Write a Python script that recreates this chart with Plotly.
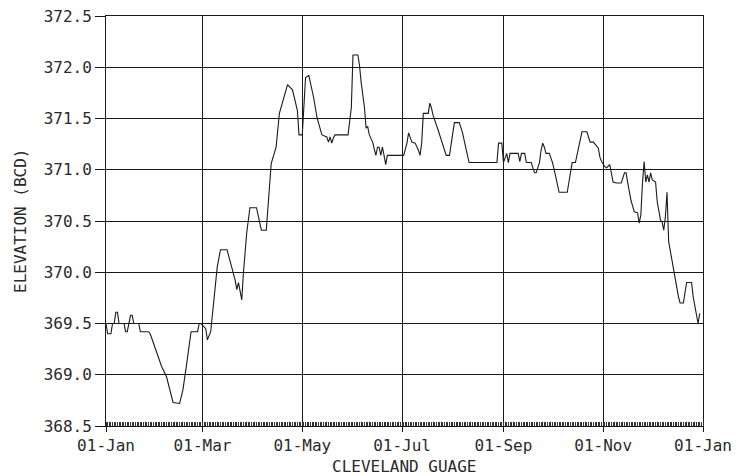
import datetime as dt
import plotly.graph_objects as go

# Day of year (0 = 01-Jan) and lake elevation readings
day = [0, 1, 3, 4, 5, 6, 7, 8, 11, 12, 13, 14, 15, 16, 17, 20, 21, 26, 27, 29, 31, 34, 37, 39, 41, 45,
       47, 49, 51, 52, 56, 57, 58, 61, 62, 64, 68, 70, 74, 77, 79, 80, 81, 83, 84, 86, 88, 92, 95, 98,
       100, 101, 104, 106, 111, 114, 117, 118, 120, 122, 124, 125, 127, 129, 131, 132, 135, 136, 137,
       138, 139, 140, 148, 150, 151, 154, 155, 156, 158, 159, 160, 161, 163, 164, 165, 166, 167, 168,
       169, 170, 171, 172, 182, 184, 185, 187, 189, 191, 192, 193, 194, 197, 198, 199, 200, 203, 206,
       208, 210, 212, 213, 216, 218, 220, 222, 239, 240, 242, 243, 245, 246, 247, 252, 253, 254, 256,
       257, 260, 262, 263, 265, 266, 267, 268, 269, 271, 273, 275, 277, 282, 284, 285, 287, 290, 291,
       294, 296, 298, 301, 302, 303, 305, 306, 308, 310, 312, 315, 317, 318, 319, 321, 323, 325, 326,
       327, 328, 329, 330, 331, 332, 333, 334, 336, 337, 339, 340, 341, 342, 343, 344, 346, 348, 350,
       351, 353, 355, 358, 359, 361, 362, 363]
elevation = [369.50, 369.40, 369.40, 369.50, 369.50, 369.61, 369.61, 369.50, 369.50, 369.42, 369.42,
             369.50, 369.58, 369.58, 369.50, 369.50, 369.42, 369.42, 369.40, 369.31, 369.22, 369.08,
             368.98, 368.85, 368.73, 368.72, 368.85, 369.07, 369.34, 369.42, 369.42, 369.50, 369.50,
             369.45, 369.34, 369.42, 370.05, 370.22, 370.22, 370.05, 369.92, 369.83, 369.90, 369.73,
             369.99, 370.38, 370.63, 370.63, 370.41, 370.41, 370.83, 371.06, 371.22, 371.55, 371.83,
             371.78, 371.58, 371.34, 371.34, 371.90, 371.92, 371.85, 371.70, 371.51, 371.41, 371.34,
             371.32, 371.27, 371.32, 371.26, 371.31, 371.34, 371.34, 371.61, 372.12, 372.12, 372.02,
             371.85, 371.61, 371.41, 371.42, 371.34, 371.27, 371.20, 371.14, 371.22, 371.22, 371.14,
             371.22, 371.14, 371.05, 371.14, 371.14, 371.26, 371.36, 371.27, 371.26, 371.19, 371.14,
             371.26, 371.55, 371.55, 371.65, 371.60, 371.53, 371.39, 371.24, 371.14, 371.14, 371.39,
             371.46, 371.46, 371.36, 371.21, 371.07, 371.07, 371.26, 371.26, 371.07, 371.16, 371.07,
             371.16, 371.16, 371.08, 371.16, 371.16, 371.07, 371.07, 370.97, 370.97, 371.07, 371.19,
             371.26, 371.22, 371.16, 371.16, 371.07, 370.93, 370.78, 370.78, 370.97, 371.07, 371.07,
             371.29, 371.37, 371.37, 371.27, 371.27, 371.21, 371.12, 371.08, 371.03, 371.02, 371.05,
             370.88, 370.87, 370.87, 370.97, 370.97, 370.87, 370.70, 370.59, 370.58, 370.48, 370.56,
             370.87, 371.08, 370.88, 370.95, 370.88, 370.97, 370.90, 370.88, 370.69, 370.51, 370.49,
             370.41, 370.54, 370.78, 370.30, 370.12, 369.90, 369.76, 369.70, 369.70, 369.90, 369.90,
             369.76, 369.60, 369.50, 369.60]

tick_dates = ["2001-01-01", "2001-03-01", "2001-05-01", "2001-07-01", "2001-09-01", "2001-11-01", "2002-01-01"]
tick_labels = ["01-Jan", "01-Mar", "01-May", "01-Jul", "01-Sep", "01-Nov", "01-Jan"]
y_ticks = [368.5, 369.0, 369.5, 370.0, 370.5, 371.0, 371.5, 372.0, 372.5]
y_labels = ["368.5", "369.0", "369.5", "370.0", "370.5", "371.0", "371.5", "372.0", "372.5"]

start = dt.date(2001, 1, 1)
dates = [start + dt.timedelta(days=d) for d in day]

FONT = "DejaVu Sans Mono"
INK = "#1a1a1a"
TXT = "#2a2a2a"

fig = go.Figure()
fig.add_trace(go.Scatter(x=dates, y=elevation, mode="lines",
                         line=dict(color=INK, width=1.1), showlegend=False, hoverinfo="skip"))

# page body has an 8px default margin, so the figure is sized to fill the rest of the window
fig.update_layout(
    width=741, height=468,
    margin=dict(l=98, r=46, t=8, b=50, autoexpand=False),
    paper_bgcolor="white", plot_bgcolor="white",
    font=dict(family=FONT, size=16, color=TXT),
    xaxis=dict(
        type="date", range=[tick_dates[0], tick_dates[-1]],
        tickvals=tick_dates, ticktext=tick_labels,
        showgrid=True, gridcolor=INK, gridwidth=1,
        showline=True, linecolor=INK, linewidth=1, mirror=True,
        ticks="outside", ticklen=5, tickcolor=INK,
        minor=dict(dtick=86400000, ticks="inside", ticklen=4, tickcolor="#333", showgrid=False),
        tickfont=dict(family=FONT, size=16, color=TXT),
        ticklabeloverflow="allow", automargin=False,
        zeroline=False,
    ),
    yaxis=dict(
        range=[368.5, 372.5], tickvals=y_ticks, ticktext=y_labels,
        showgrid=True, gridcolor=INK, gridwidth=1,
        showline=True, linecolor=INK, linewidth=1, mirror=True,
        ticks="outside", ticklen=10, tickcolor=INK,
        tickfont=dict(family=FONT, size=16, color=TXT),
        ticklabeloverflow="allow", automargin=False,
        zeroline=False,
    ),
    annotations=[
        dict(text="ELEVATION (BCD)", xref="paper", yref="paper", x=0, y=0.5,
             xanchor="center", yanchor="middle", xshift=-86, textangle=-90,
             showarrow=False, font=dict(family=FONT, size=16, color=TXT)),
        dict(text="CLEVELAND GUAGE", xref="paper", yref="paper", x=0.5, y=0,
             xanchor="center", yanchor="middle", yshift=-40,
             showarrow=False, font=dict(family=FONT, size=16, color=TXT)),
    ],
)

fig.write_html("out.html")
